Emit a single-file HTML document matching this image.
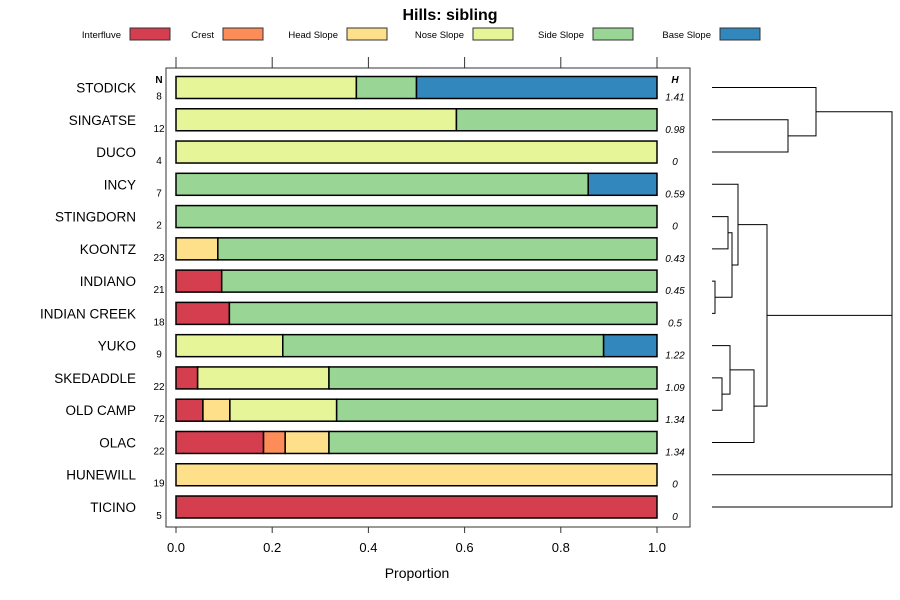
<!DOCTYPE html>
<html><head><meta charset="utf-8"><style>
body{margin:0;background:#fff}
svg{display:block;font-family:"Liberation Sans",sans-serif}
</style></head><body>
<svg id="c" width="900" height="600" xmlns="http://www.w3.org/2000/svg">
<text x="450" y="20" text-anchor="middle" font-size="16" font-weight="bold">Hills: sibling</text>
<g id="legend"></g>
<rect x="166" y="68" width="524" height="459" fill="none" stroke="#333" stroke-width="1"/>
<g id="bars"></g>
<g id="axes"></g>
<g id="dendro" stroke="#000" stroke-width="1" fill="none"></g>
<text x="417" y="578" text-anchor="middle" font-size="14">Proportion</text>
</svg>
<script>
const categories=["STODICK","SINGATSE","DUCO","INCY","STINGDORN","KOONTZ","INDIANO","INDIAN CREEK","YUKO","SKEDADDLE","OLD CAMP","OLAC","HUNEWILL","TICINO"];
const counts=[8,12,4,7,2,23,21,18,9,22,72,22,19,5];
const entropy=["1.41","0.98","0","0.59","0","0.43","0.45","0.5","1.22","1.09","1.34","1.34","0","0"];
const classes=["Interfluve","Crest","Head Slope","Nose Slope","Side Slope","Base Slope"];
const colors=["#D53E4F","#FC8D59","#FEE08B","#E6F598","#99D594","#3288BD"];
const interfluve=[0,0,0,0,0,0,0.095,0.111,0,0.045,0.056,0.182,0,1];
const crest=[0,0,0,0,0,0,0,0,0,0,0,0.045,0,0];
const headSlope=[0,0,0,0,0,0.087,0,0,0,0,0.056,0.091,1,0];
const noseSlope=[0.375,0.583,1,0,0,0,0,0,0.222,0.273,0.222,0,0,0];
const sideSlope=[0.125,0.417,0,0.857,1,0.913,0.905,0.889,0.667,0.682,0.667,0.682,0,0];
const baseSlope=[0.5,0,0,0.143,0,0,0,0,0.111,0,0,0,0,0];
const xTicks=[0,0.2,0.4,0.6,0.8,1.0];
const xTickLabels=["0.0","0.2","0.4","0.6","0.8","1.0"];
const series=[interfluve,crest,headSlope,noseSlope,sideSlope,baseSlope];
const NS="http://www.w3.org/2000/svg";
const xs=v=>176+v*481;
const ys=i=>87.5+i*32.27;
function mk(parent,tag,attrs,text){const e=document.createElementNS(NS,tag);for(const k in attrs)e.setAttribute(k,attrs[k]);if(text!==undefined)e.textContent=text;parent.appendChild(e);return e;}
const legend=document.getElementById('legend');
const boxX=[130,223,347,473,593,720];
classes.forEach((c,k)=>{
 const t=mk(legend,'text',{x:boxX[k]-9,y:38,'text-anchor':'end','font-size':9.5},c);
 
 
 const r=mk(legend,'rect',{x:boxX[k],y:28,width:40,height:12,fill:colors[k],stroke:'#333'});
 
 
});
const bars=document.getElementById('bars');
categories.forEach((cat,i)=>{
 const y=ys(i);
 let acc=0;
 series.forEach((s,k)=>{
  const v=s[i]; if(v<=0)return;
  const r=mk(bars,'rect',{x:xs(acc),y:y-11,width:xs(acc+v)-xs(acc),height:22,fill:colors[k],stroke:'#000','stroke-width':1.5});
  
  
  acc+=v;
 });
 const l=mk(bars,'text',{x:136,y:y+5,'text-anchor':'end','font-size':13.5},cat);
 
 
 const n=mk(bars,'text',{x:159,y:y+12,'text-anchor':'middle','font-size':10},counts[i]);
 
 
 const h=mk(bars,'text',{x:675,y:y+13,'text-anchor':'middle','font-size':10,'font-style':'italic'},entropy[i]);
 
 
});
const nh=mk(bars,'text',{x:159,y:83,'text-anchor':'middle','font-size':10,'font-weight':'bold'},'N');


const hh=mk(bars,'text',{x:675,y:83,'text-anchor':'middle','font-size':10,'font-weight':'bold','font-style':'italic'},'H');


const axes=document.getElementById('axes');
xTicks.forEach((t,k)=>{
 mk(axes,'line',{x1:xs(t),x2:xs(t),y1:57,y2:68,stroke:'#333'});
 mk(axes,'line',{x1:xs(t),x2:xs(t),y1:527,y2:533,stroke:'#333'});
 const tl=mk(axes,'text',{x:xs(t),y:552,'text-anchor':'middle','font-size':13},xTickLabels[k]);
 
 
});
const d=document.getElementById('dendro');
function p(dd){mk(d,'path',{d:dd});}
const L=712;
const Y=ys;
p(`M${L} ${Y(1)}H788V${Y(2)}H${L}`);
const a1=(Y(1)+Y(2))/2;
p(`M${L} ${Y(0)}H816V${a1}H788`);
const aTop=(Y(0)+a1)/2;
p(`M${L} ${Y(4)}H728V${Y(5)}H${L}`);
const b1=(Y(4)+Y(5))/2;
p(`M${L} ${Y(6)}H715V${Y(7)}H${L}`);
const b2=(Y(6)+Y(7))/2;
p(`M728 ${b1}H732V${b2}H715`);
const b3=(b1+b2)/2;
p(`M${L} ${Y(3)}H738V${b3}H732`);
const b4=(Y(3)+b3)/2;
p(`M${L} ${Y(9)}H722V${Y(10)}H${L}`);
const c1=(Y(9)+Y(10))/2;
p(`M${L} ${Y(8)}H730V${c1}H722`);
const c2=(Y(8)+c1)/2;
p(`M${L} ${Y(11)}H754V${c2}H730`);
const c3=(Y(11)+c2)/2;
p(`M738 ${b4}H767V${c3}H754`);
const bc=(b4+c3)/2;
p(`M767 ${bc}H892`);
p(`M816 ${aTop}H892V${Y(13)}H${L}`);
p(`M${L} ${Y(12)}H892`);
</script>
</body></html>
